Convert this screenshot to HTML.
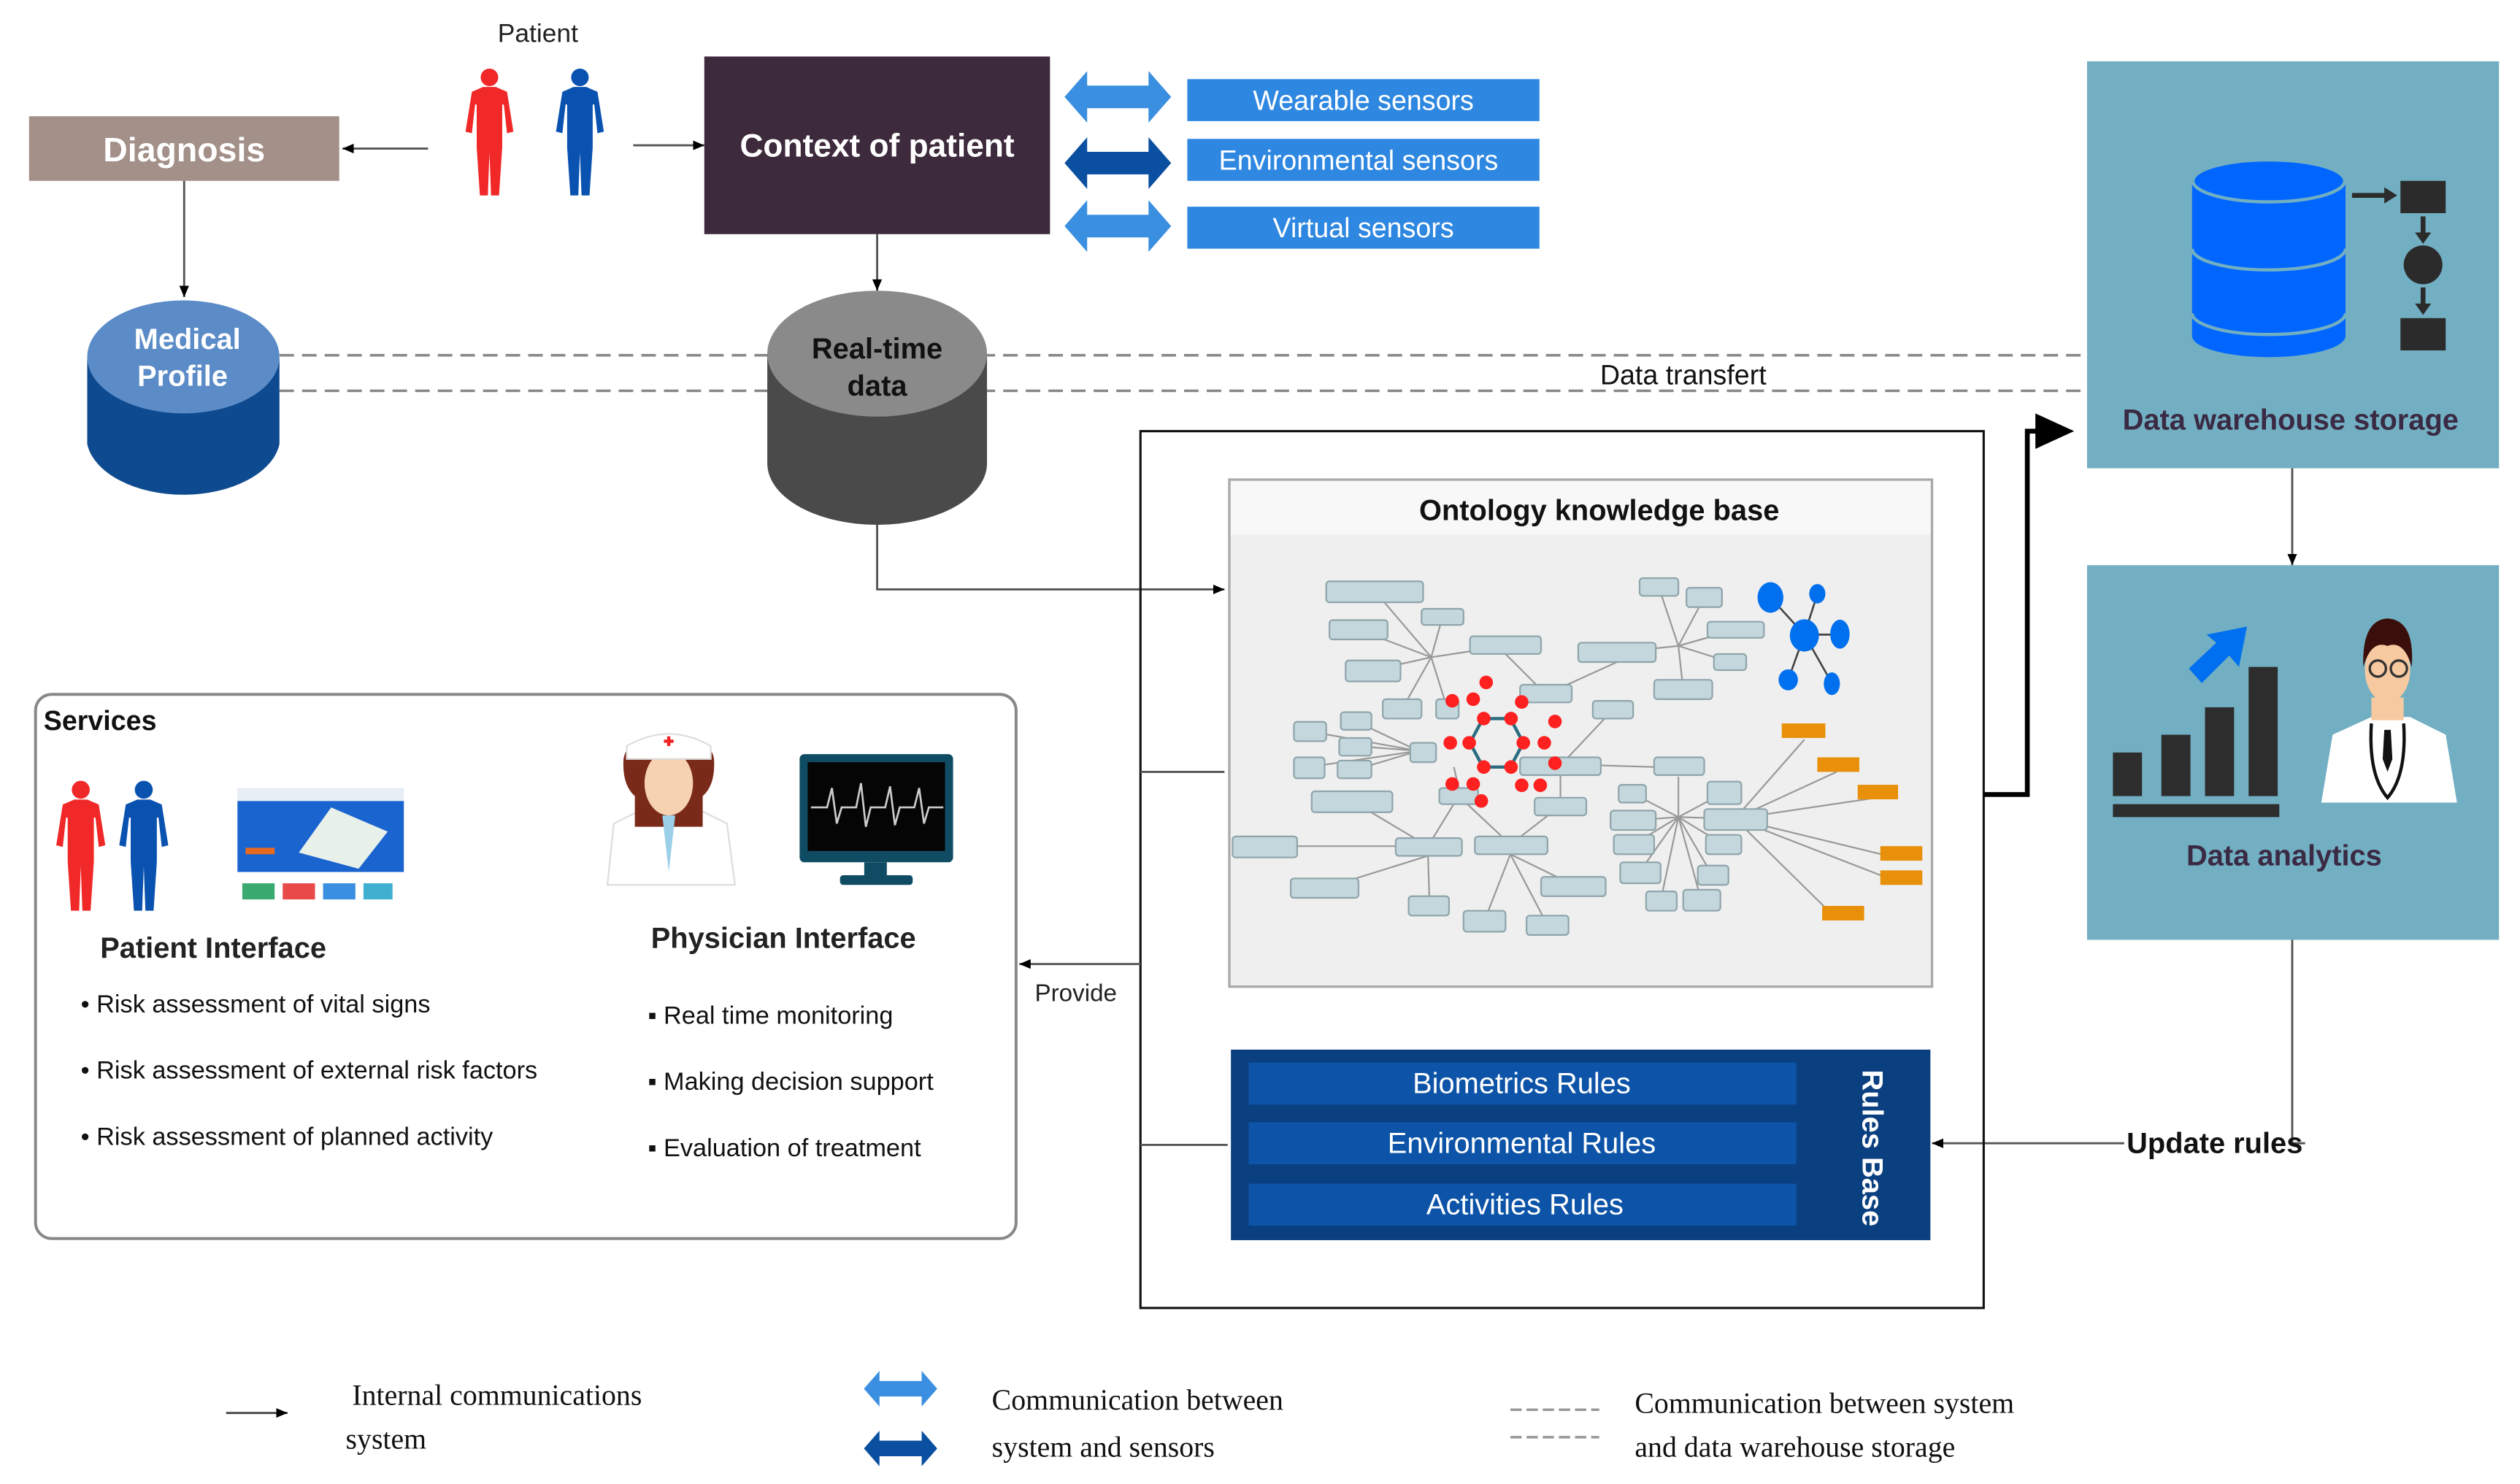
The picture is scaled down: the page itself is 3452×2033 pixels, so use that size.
<!DOCTYPE html>
<html><head><meta charset="utf-8"><style>
html,body{margin:0;padding:0;background:#fff;width:3452px;height:2033px;overflow:hidden}
svg{display:block}
text{font-family:"Liberation Sans",Arial,sans-serif}
.serif{font-family:"Liberation Serif",serif}
</style></head><body>
<svg width="3452" height="2033" viewBox="0 0 1560 919" preserveAspectRatio="none" xmlns="http://www.w3.org/2000/svg">
<defs>
<marker id="ah" markerWidth="8" markerHeight="8" refX="7" refY="4" orient="auto" markerUnits="userSpaceOnUse"><path d="M0,1 L7,4 L0,7 Z" fill="#000"/></marker>
<symbol id="person" viewBox="-16 0 32 82" overflow="visible">
<circle cx="0" cy="6" r="5.5"/>
<path d="M-4,12 L4,12 L11,15 L15,40 L11,41 L9,23 L8,23 L8,50 L6,80 L1,80 L0,53 L-1,80 L-6,80 L-8,50 L-8,23 L-9,23 L-11,41 L-15,40 L-11,15 Z"/>
</symbol>
<symbol id="dbl" viewBox="0 0 66 32" overflow="visible">
<path d="M0,16 L14,0 L14,9 L52,9 L52,0 L66,16 L52,32 L52,23 L14,23 L14,32 Z"/>
</symbol>
</defs>

<!-- Patient -->
<text x="333" y="26" font-size="16" text-anchor="middle" fill="#222">Patient</text>
<use href="#person" x="287" y="42" width="32" height="81" fill="#f02828"/>
<use href="#person" x="343" y="42" width="32" height="81" fill="#0a52b0"/>

<!-- Diagnosis -->
<rect x="18" y="72" width="192" height="40" fill="#a39088"/>
<text x="114" y="100" font-size="21" font-weight="bold" fill="#fff" text-anchor="middle">Diagnosis</text>
<line x1="265" y1="92" x2="212" y2="92" stroke="#555" stroke-width="1.3" marker-end="url(#ah)"/>
<line x1="114" y1="112" x2="114" y2="184" stroke="#555" stroke-width="1.3" marker-end="url(#ah)"/>

<!-- Context -->
<rect x="436" y="35" width="214" height="110" fill="#3d2a3c"/>
<text x="543" y="97" font-size="20" font-weight="bold" fill="#fff" text-anchor="middle">Context of patient</text>
<line x1="392" y1="90" x2="436" y2="90" stroke="#555" stroke-width="1.3" marker-end="url(#ah)"/>
<line x1="543" y1="145" x2="543" y2="180" stroke="#555" stroke-width="1.3" marker-end="url(#ah)"/>

<!-- sensors -->
<use href="#dbl" x="659" y="44" width="66" height="32" fill="#3b8fe0"/>
<use href="#dbl" x="659" y="85" width="66" height="32" fill="#0a4fa0"/>
<use href="#dbl" x="659" y="124" width="66" height="32" fill="#3b8fe0"/>
<rect x="735" y="49" width="218" height="26" fill="#2e87e0"/>
<rect x="735" y="86" width="218" height="26" fill="#2e87e0"/>
<rect x="735" y="128" width="218" height="26" fill="#2e87e0"/>
<text x="844" y="68" font-size="17" fill="#fff" text-anchor="middle">Wearable sensors</text>
<text x="841" y="105" font-size="17" fill="#fff" text-anchor="middle">Environmental sensors</text>
<text x="844" y="147" font-size="17" fill="#fff" text-anchor="middle">Virtual sensors</text>

<!-- dashed lines -->
<line x1="173" y1="220" x2="1290" y2="220" stroke="#888" stroke-width="1.6" stroke-dasharray="9,5"/>
<line x1="173" y1="242" x2="1290" y2="242" stroke="#888" stroke-width="1.6" stroke-dasharray="9,5"/>
<rect x="982" y="222" width="120" height="18" fill="#fff"/>
<text x="1042" y="238" font-size="17" fill="#111" text-anchor="middle">Data transfert</text>

<!-- Medical profile -->
<path d="M54,222 L54,275 A60,36 0 0 0 173,275 L173,222 Z" fill="#0e4a8f"/>
<ellipse cx="113.5" cy="221" rx="59.5" ry="35" fill="#5b8cc8"/>
<text x="116" y="216" font-size="18" font-weight="bold" fill="#fff" text-anchor="middle">Medical</text>
<text x="113" y="239" font-size="18" font-weight="bold" fill="#fff" text-anchor="middle">Profile</text>

<!-- Real-time data -->
<path d="M475,219 L475,287 A68,38 0 0 0 611,287 L611,219 Z" fill="#4a4a4a"/>
<ellipse cx="543" cy="219" rx="68" ry="39" fill="#8a8a8a"/>
<text x="543" y="222" font-size="18" font-weight="bold" fill="#111" text-anchor="middle">Real-time</text>
<text x="543" y="245" font-size="18" font-weight="bold" fill="#111" text-anchor="middle">data</text>
<polyline points="543,325 543,365 758,365" fill="none" stroke="#555" stroke-width="1.3" marker-end="url(#ah)"/>

<!-- Warehouse -->
<rect x="1292" y="38" width="255" height="252" fill="#72afc2"/>
<path d="M1357,113 L1357,208 A47,13 0 0 0 1452,208 L1452,113 Z" fill="#0066ff"/>
<ellipse cx="1404.5" cy="112" rx="47" ry="13" fill="#0066ff" stroke="#72afc2" stroke-width="2"/>
<path d="M1357,154 A47,13 0 0 0 1452,154" fill="none" stroke="#72afc2" stroke-width="2"/>
<path d="M1357,194 A47,13 0 0 0 1452,194" fill="none" stroke="#72afc2" stroke-width="2"/>
<rect x="1486" y="112" width="28" height="20" fill="#2b2b2b"/>
<rect x="1486" y="197" width="28" height="20" fill="#2b2b2b"/>
<circle cx="1500" cy="164" r="12" fill="#2b2b2b"/>
<line x1="1456" y1="121" x2="1478" y2="121" stroke="#2b2b2b" stroke-width="3"/><path d="M1476,116 L1484,121 L1476,126Z" fill="#2b2b2b"/>
<line x1="1500" y1="134" x2="1500" y2="146" stroke="#2b2b2b" stroke-width="3"/><path d="M1495,144 L1500,151 L1505,144Z" fill="#2b2b2b"/>
<line x1="1500" y1="178" x2="1500" y2="190" stroke="#2b2b2b" stroke-width="3"/><path d="M1495,188 L1500,195 L1505,188Z" fill="#2b2b2b"/>
<text x="1418" y="266" font-size="18" font-weight="bold" fill="#3a2a44" text-anchor="middle">Data warehouse storage</text>
<line x1="1419" y1="290" x2="1419" y2="350" stroke="#555" stroke-width="1.3" marker-end="url(#ah)"/>

<!-- Analytics -->
<rect x="1292" y="350" width="255" height="232" fill="#72afc2"/>
<rect x="1308" y="466" width="18" height="27" fill="#2d2d2d"/>
<rect x="1338" y="455" width="18" height="38" fill="#2d2d2d"/>
<rect x="1365" y="438" width="18" height="55" fill="#2d2d2d"/>
<rect x="1392" y="413" width="18" height="80" fill="#2d2d2d"/>
<rect x="1308" y="498" width="103" height="8" fill="#2d2d2d"/>
<path d="M1355,414 L1372,398 L1366,393 L1391,388 L1386,413 L1380,406 L1363,423 Z" fill="#0070f0"/>
<path d="M1437,497 L1444,455 L1468,444 L1492,444 L1514,455 L1521,497 Z" fill="#fff"/>
<rect x="1468" y="432" width="20" height="14" fill="#f7c9a0"/>
<ellipse cx="1478" cy="415" rx="14" ry="20" fill="#f7c9a0"/>
<path d="M1463,413 Q1462,384 1478,383 Q1495,384 1493,413 Q1488,396 1478,400 Q1468,396 1463,413Z" fill="#3a0e0a"/>
<circle cx="1472" cy="414" r="5" fill="none" stroke="#333" stroke-width="1.5"/>
<circle cx="1485" cy="414" r="5" fill="none" stroke="#333" stroke-width="1.5"/>
<path d="M1468,448 Q1466,480 1478,494 Q1490,480 1488,448" fill="none" stroke="#111" stroke-width="2"/>
<path d="M1476,452 L1480,452 L1481,470 L1478,478 L1475,470Z" fill="#111"/>
<text x="1414" y="536" font-size="18" font-weight="bold" fill="#3a2a44" text-anchor="middle">Data analytics</text>
<polyline points="1419,582 1419,708 1427,708" fill="none" stroke="#555" stroke-width="1.3"/>
<line x1="1315" y1="708" x2="1196" y2="708" stroke="#555" stroke-width="1.3" marker-end="url(#ah)"/>
<text x="1371" y="714" font-size="18" font-weight="bold" fill="#111" text-anchor="middle">Update rules</text>

<!-- big box -->
<rect x="706" y="267" width="522" height="543" fill="none" stroke="#111" stroke-width="1.4"/>
<polyline points="1228,492 1255,492 1255,267 1266,267" fill="none" stroke="#000" stroke-width="3"/>
<path d="M1260,256 L1284,267 L1260,278 Z" fill="#000"/>
<line x1="706" y1="478" x2="758" y2="478" stroke="#555" stroke-width="1.3"/>
<line x1="706" y1="709" x2="760" y2="709" stroke="#555" stroke-width="1.3"/>
<line x1="706" y1="597" x2="631" y2="597" stroke="#555" stroke-width="1.3" marker-end="url(#ah)"/>
<text x="666" y="620" font-size="15" fill="#222" text-anchor="middle">Provide</text>

<!-- Ontology -->
<rect x="761" y="297" width="435" height="314" fill="#efefef" stroke="#aaa" stroke-width="1.5"/>
<rect x="762" y="298" width="433" height="33" fill="#f8f8f8"/>
<text x="990" y="322" font-size="18" font-weight="bold" fill="#111" text-anchor="middle">Ontology knowledge base</text>
<g stroke="#999" stroke-width="1">
<line x1="886" y1="407" x2="851" y2="366"/><line x1="886" y1="407" x2="893" y2="382"/><line x1="886" y1="407" x2="841" y2="390"/><line x1="886" y1="407" x2="932" y2="400"/><line x1="886" y1="407" x2="850" y2="415"/><line x1="886" y1="407" x2="868" y2="439"/><line x1="886" y1="407" x2="896" y2="439"/>
<line x1="1039" y1="400" x2="1027" y2="364"/><line x1="1039" y1="400" x2="1055" y2="370"/><line x1="1039" y1="400" x2="1074" y2="390"/><line x1="1039" y1="400" x2="1071" y2="410"/><line x1="1039" y1="400" x2="1042" y2="427"/><line x1="1039" y1="400" x2="1001" y2="404"/>
<line x1="932" y1="405" x2="957" y2="430"/><line x1="1001" y1="410" x2="957" y2="430"/><line x1="998" y1="440" x2="966" y2="474"/>
<line x1="878" y1="465" x2="811" y2="453"/><line x1="878" y1="465" x2="840" y2="447"/><line x1="878" y1="465" x2="839" y2="462"/><line x1="878" y1="465" x2="810" y2="475"/><line x1="878" y1="465" x2="838" y2="477"/>
<line x1="991" y1="474" x2="1024" y2="475"/><line x1="1039" y1="481" x2="1039" y2="506"/>
<line x1="1039" y1="506" x2="1010" y2="491"/><line x1="1039" y1="506" x2="1067" y2="491"/><line x1="1039" y1="506" x2="1011" y2="508"/><line x1="1039" y1="506" x2="1074" y2="507"/><line x1="1039" y1="506" x2="1011" y2="523"/><line x1="1039" y1="506" x2="1067" y2="523"/><line x1="1039" y1="506" x2="1015" y2="540"/><line x1="1039" y1="506" x2="1060" y2="542"/><line x1="1039" y1="506" x2="1028" y2="558"/><line x1="1039" y1="506" x2="1053" y2="557"/>
<line x1="1074" y1="507" x2="1117" y2="458"/><line x1="1074" y1="507" x2="1137" y2="478"/><line x1="1074" y1="507" x2="1162" y2="494"/><line x1="1074" y1="507" x2="1177" y2="532"/><line x1="1074" y1="507" x2="1177" y2="547"/><line x1="1074" y1="507" x2="1137" y2="569"/>
<line x1="884" y1="524" x2="837" y2="496"/><line x1="884" y1="524" x2="903" y2="493"/><line x1="935" y1="523" x2="903" y2="493"/><line x1="935" y1="523" x2="966" y2="499"/><line x1="864" y1="524" x2="803" y2="524"/><line x1="884" y1="530" x2="820" y2="550"/><line x1="884" y1="530" x2="885" y2="561"/><line x1="935" y1="529" x2="919" y2="570"/><line x1="935" y1="529" x2="958" y2="573"/><line x1="935" y1="529" x2="974" y2="548"/>
<line x1="903" y1="488" x2="900" y2="475"/><line x1="966" y1="494" x2="966" y2="478"/>
</g>
<g fill="#c3d7dc" stroke="#8fa5ab" stroke-width="1">
<rect x="821" y="360" width="60" height="13" rx="2"/><rect x="880" y="377" width="26" height="10" rx="2"/><rect x="823" y="384" width="36" height="12" rx="2"/><rect x="910" y="394" width="44" height="11" rx="2"/><rect x="833" y="409" width="34" height="13" rx="2"/><rect x="856" y="433" width="24" height="12" rx="2"/><rect x="889" y="433" width="14" height="12" rx="2"/><rect x="941" y="424" width="32" height="11" rx="2"/><rect x="977" y="398" width="48" height="12" rx="2"/><rect x="1015" y="358" width="24" height="11" rx="2"/><rect x="1044" y="364" width="22" height="12" rx="2"/><rect x="1057" y="385" width="35" height="10" rx="2"/><rect x="1061" y="405" width="20" height="10" rx="2"/><rect x="1024" y="421" width="36" height="12" rx="2"/><rect x="986" y="434" width="25" height="11" rx="2"/>
<rect x="801" y="447" width="20" height="12" rx="2"/><rect x="830" y="441" width="19" height="11" rx="2"/><rect x="829" y="457" width="20" height="11" rx="2"/><rect x="801" y="469" width="19" height="13" rx="2"/><rect x="828" y="471" width="21" height="11" rx="2"/><rect x="873" y="460" width="16" height="12" rx="2"/><rect x="941" y="469" width="50" height="11" rx="2"/><rect x="1024" y="469" width="31" height="11" rx="2"/><rect x="812" y="490" width="50" height="13" rx="2"/><rect x="891" y="488" width="24" height="10" rx="2"/><rect x="950" y="494" width="32" height="11" rx="2"/>
<rect x="763" y="518" width="40" height="13" rx="2"/><rect x="864" y="519" width="41" height="11" rx="2"/><rect x="913" y="518" width="45" height="11" rx="2"/><rect x="799" y="544" width="42" height="12" rx="2"/><rect x="872" y="555" width="25" height="12" rx="2"/><rect x="906" y="564" width="26" height="13" rx="2"/><rect x="945" y="567" width="26" height="12" rx="2"/><rect x="954" y="543" width="40" height="12" rx="2"/>
<rect x="1002" y="486" width="17" height="11" rx="2"/><rect x="1057" y="484" width="21" height="14" rx="2"/><rect x="997" y="502" width="28" height="12" rx="2"/><rect x="1055" y="501" width="39" height="13" rx="2"/><rect x="999" y="517" width="25" height="12" rx="2"/><rect x="1056" y="517" width="22" height="12" rx="2"/><rect x="1003" y="534" width="25" height="13" rx="2"/><rect x="1051" y="536" width="19" height="12" rx="2"/><rect x="1019" y="552" width="19" height="12" rx="2"/><rect x="1042" y="551" width="23" height="13" rx="2"/>
</g>
<g fill="#e8900a">
<rect x="1103" y="448" width="27" height="9"/><rect x="1125" y="469" width="26" height="9"/><rect x="1150" y="486" width="25" height="9"/><rect x="1164" y="524" width="26" height="9"/><rect x="1164" y="539" width="26" height="9"/><rect x="1128" y="561" width="26" height="9"/>
</g>
<polygon points="918,445 935,445 943,460 935,475 918,475 910,460" fill="none" stroke="#2a6d80" stroke-width="2"/>
<g fill="#ff2020">
<circle cx="918.5" cy="445" r="4.2"/><circle cx="935.4" cy="445" r="4.2"/><circle cx="943" cy="460" r="4.2"/><circle cx="956" cy="460" r="4.2"/><circle cx="935.4" cy="475" r="4.2"/><circle cx="918.5" cy="475" r="4.2"/><circle cx="909.5" cy="460" r="4.2"/><circle cx="897.8" cy="460" r="4.2"/><circle cx="912" cy="433" r="4.2"/><circle cx="899" cy="434" r="4.2"/><circle cx="920" cy="422.6" r="4.2"/><circle cx="942" cy="434.7" r="4.2"/><circle cx="962.6" cy="446.8" r="4.2"/><circle cx="962.6" cy="472.6" r="4.2"/><circle cx="899" cy="485.5" r="4.2"/><circle cx="912" cy="485.5" r="4.2"/><circle cx="917" cy="496" r="4.2"/><circle cx="942" cy="486.3" r="4.2"/><circle cx="953.5" cy="486.3" r="4.2"/>
</g>
<g stroke="#444" stroke-width="1.2"><line x1="1117" y1="393" x2="1096" y2="370"/><line x1="1117" y1="393" x2="1125" y2="368"/><line x1="1117" y1="393" x2="1139" y2="393"/><line x1="1117" y1="393" x2="1107" y2="421"/><line x1="1117" y1="393" x2="1134" y2="423"/></g>
<g fill="#0070ee">
<ellipse cx="1117" cy="393.5" rx="9" ry="10"/><ellipse cx="1096" cy="370" rx="8" ry="9.5"/><ellipse cx="1125" cy="367.7" rx="5" ry="6"/><ellipse cx="1139" cy="392.7" rx="6" ry="9"/><ellipse cx="1107" cy="421" rx="6" ry="6.5"/><ellipse cx="1134" cy="423.4" rx="5" ry="7"/>
</g>

<!-- Rules base -->
<rect x="762" y="650" width="433" height="118" fill="#0a3f80"/>
<rect x="773" y="658" width="339" height="26" fill="#0d54a8"/>
<rect x="773" y="695" width="339" height="26" fill="#0d54a8"/>
<rect x="773" y="733" width="339" height="26" fill="#0d54a8"/>
<text x="942" y="677" font-size="18" fill="#fff" text-anchor="middle">Biometrics Rules</text>
<text x="942" y="714" font-size="18" fill="#fff" text-anchor="middle">Environmental Rules</text>
<text x="944" y="752" font-size="18" fill="#fff" text-anchor="middle">Activities Rules</text>
<text x="0" y="0" transform="translate(1153,711) rotate(90)" font-size="18" font-weight="bold" fill="#fff" text-anchor="middle">Rules  Base</text>

<!-- Services -->
<rect x="22" y="430" width="607" height="337" rx="10" fill="#fff" stroke="#888" stroke-width="1.8"/>
<text x="27" y="452" font-size="17" font-weight="bold" fill="#111">Services</text>
<use href="#person" x="33" y="483" width="34" height="83" fill="#f02828"/>
<use href="#person" x="72" y="483" width="34" height="83" fill="#0a52b0"/>
<rect x="147" y="496" width="103" height="44" fill="#1a64d0"/>
<rect x="147" y="488" width="103" height="8" fill="#e8eef5"/>
<path d="M185,528 L205,500 L240,515 L222,538 Z" fill="#e8f0ea"/>
<rect x="152" y="525" width="18" height="4" fill="#e86a20"/>
<rect x="150" y="547" width="20" height="10" fill="#3aaa70"/>
<rect x="175" y="547" width="20" height="10" fill="#e84a4a"/>
<rect x="200" y="547" width="20" height="10" fill="#3a90e0"/>
<rect x="225" y="547" width="18" height="10" fill="#40b0d0"/>
<text x="62" y="593" font-size="18" font-weight="bold" fill="#222">Patient Interface</text>
<g font-size="15.5" fill="#111">
<text x="50" y="627">• Risk assessment of vital signs</text>
<text x="50" y="668">• Risk assessment of external risk factors</text>
<text x="50" y="709">• Risk assessment of planned activity</text>
<text x="401" y="634">▪ Real time monitoring</text>
<text x="401" y="675">▪ Making decision support</text>
<text x="401" y="716">▪ Evaluation of treatment</text>
</g>
<!-- nurse -->
<path d="M376,548 L380,510 L400,500 L430,500 L450,510 L455,548 Z" fill="#fff" stroke="#ddd"/>
<path d="M386,470 Q385,486 393,493 L393,512 L435,512 L435,493 Q443,486 442,470 Q440,456 414,456 Q388,456 386,470Z" fill="#7a2a18"/>
<ellipse cx="414" cy="485" rx="15" ry="20" fill="#f7d2b0"/>
<path d="M388,462 Q414,447 440,462 L440,470 L388,470 Z" fill="#fff" stroke="#ddd"/>
<rect x="411" y="458" width="6" height="2" fill="#e22"/><rect x="413" y="456" width="2" height="6" fill="#e22"/>
<path d="M410,505 L418,505 L414,540 Z" fill="#9cd0e8"/>
<!-- monitor -->
<rect x="495" y="467" width="95" height="67" rx="3" fill="#0f4c64"/>
<rect x="500" y="472" width="85" height="55" fill="#050505"/>
<polyline points="502,500 512,500 515,488 518,510 521,500 530,500 533,485 536,512 539,500 548,500 551,487 554,511 557,500 566,500 569,488 572,510 575,500 584,500" fill="none" stroke="#ccc" stroke-width="1.2"/>
<rect x="535" y="534" width="14" height="8" fill="#0f4c64"/>
<rect x="520" y="542" width="45" height="6" rx="2" fill="#0f4c64"/>
<text x="403" y="587" font-size="18" font-weight="bold" fill="#222">Physician Interface</text>

<!-- Legend -->
<line x1="140" y1="875" x2="178" y2="875" stroke="#444" stroke-width="1.3" marker-end="url(#ah)"/>
<text x="218" y="870" class="serif" font-size="18" fill="#111">Internal communications</text>
<text x="214" y="897" class="serif" font-size="18" fill="#111">system</text>
<use href="#dbl" x="532" y="849" width="51" height="22" fill="#3b8fe0"/>
<use href="#dbl" x="532" y="886" width="51" height="22" fill="#0a4fa0"/>
<text x="614" y="873" class="serif" font-size="18" fill="#111">Communication between</text>
<text x="614" y="902" class="serif" font-size="18" fill="#111">system and sensors</text>
<line x1="935" y1="873" x2="990" y2="873" stroke="#999" stroke-width="1.6" stroke-dasharray="7,3"/>
<line x1="935" y1="890" x2="990" y2="890" stroke="#999" stroke-width="1.6" stroke-dasharray="7,3"/>
<text x="1012" y="875" class="serif" font-size="18" fill="#111">Communication between system</text>
<text x="1012" y="902" class="serif" font-size="18" fill="#111">and data warehouse storage</text>
</svg>
</body></html>
